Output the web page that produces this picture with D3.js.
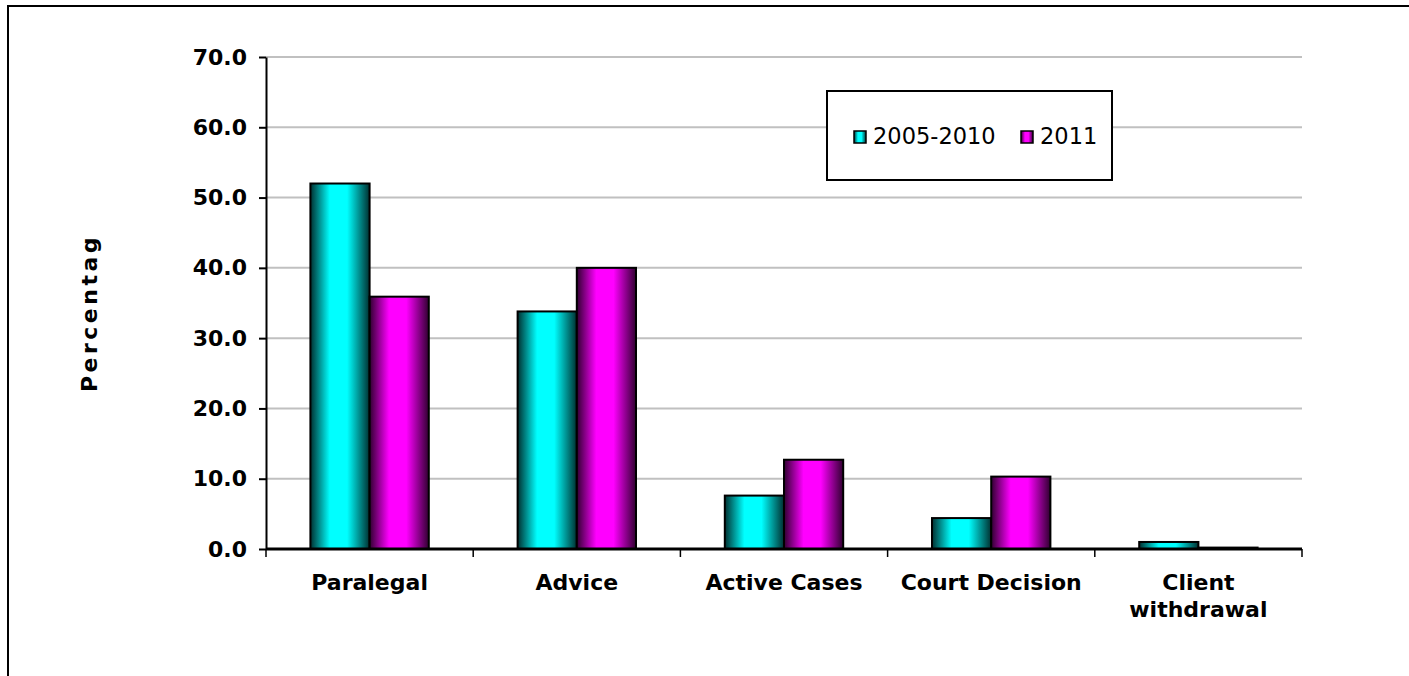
<!DOCTYPE html>
<html>
<head>
<meta charset="utf-8">
<script src="https://cdn.jsdelivr.net/npm/d3@7"></script>
<style>
  body{margin:0;background:#fff;}
  svg{display:block;font-family:"DejaVu Sans",Verdana,sans-serif;}
</style>
</head>
<body>
<div class="chart"></div>
<script>
// data
const categories = ['Paralegal','Advice','Active Cases','Court Decision','Client withdrawal'];
const seriesNames = ['2005-2010','2011'];
const values_2005_2010 = [52.0, 33.8, 7.6, 4.4, 1.0];
const values_2011 = [35.9, 40.0, 12.7, 10.3, 0.2];
const yTicks = [0,10,20,30,40,50,60,70];

const colors = {'2005-2010':['#003030','#00ffff'], '2011':['#300030','#ff00ff']};

const tableData = categories.map((c,i)=>({
  cat:c,
  vals:[{s:'2005-2010',v:values_2005_2010[i]},{s:'2011',v:values_2011[i]}]
}));

const W=1409, H=676;
const margin={top:57,right:107,bottom:127,left:266};
const svg=d3.select('.chart').append('svg').attr('width',W).attr('height',H);

// gradients (dark edges, bright middle like the excel bars)
const defs=svg.append('defs');
seriesNames.forEach((s,i)=>{
  const g=defs.append('linearGradient').attr('id','grad'+i).attr('x1','0%').attr('x2','100%');
  g.append('stop').attr('offset','0%').attr('stop-color',colors[s][0]);
  g.append('stop').attr('offset','33%').attr('stop-color',colors[s][1]);
  g.append('stop').attr('offset','62%').attr('stop-color',colors[s][1]);
  g.append('stop').attr('offset','100%').attr('stop-color',colors[s][0]);
});

// outer frame
svg.append('rect').attr('x',8).attr('y',6).attr('width',1420).attr('height',700)
  .attr('fill','#fff').attr('stroke','#000').attr('stroke-width',2);

const x0=d3.scaleBand().domain(categories).range([margin.left,W-margin.right]);
const x1=d3.scaleBand().domain(seriesNames).range([0,x0.bandwidth()]).paddingInner(0).paddingOuter(0.75);
const y=d3.scaleLinear().domain([0,70]).range([H-margin.bottom,margin.top]);

// gridlines
svg.append('g').selectAll('line').data(yTicks.filter(d=>d>0)).join('line')
  .attr('x1',margin.left).attr('x2',W-margin.right)
  .attr('y1',d=>y(d)).attr('y2',d=>y(d))
  .attr('stroke','#c0c0c0').attr('stroke-width',2);

// bars
const groups=svg.append('g').selectAll('g').data(tableData).join('g')
  .attr('transform',d=>`translate(${x0(d.cat)},0)`);
groups.selectAll('rect').data(d=>d.vals).join('rect')
  .attr('x',d=>x1(d.s))
  .attr('width',x1.bandwidth())
  .attr('y',d=>y(d.v))
  .attr('height',d=>y(0)-y(d.v))
  .attr('fill',d=>`url(#grad${seriesNames.indexOf(d.s)})`)
  .attr('stroke','#000').attr('stroke-width',2);

// y axis
const yAxis=d3.axisLeft(y).tickValues(yTicks).tickFormat(d3.format('.1f')).tickSize(7).tickPadding(12).tickSizeOuter(0);
svg.append('g').attr('transform',`translate(${margin.left},0)`).call(yAxis)
  .call(g=>g.select('.domain').attr('stroke','#000').attr('stroke-width',2))
  .call(g=>g.selectAll('.tick line').attr('stroke','#000').attr('stroke-width',2))
  .call(g=>g.selectAll('.tick text')
    .style('font-family','"DejaVu Sans",sans-serif')
    .style('font-weight','bold').style('font-size','22px').attr('fill','#000'));

// x axis
const xAxisG=svg.append('g').attr('transform',`translate(0,${y(0)})`);
xAxisG.append('line').attr('x1',margin.left).attr('x2',W-margin.right).attr('stroke','#000').attr('stroke-width',3);
const bounds=categories.map(c=>x0(c)).concat([W-margin.right]);
xAxisG.selectAll('.tk').data(bounds).join('line').attr('class','tk')
  .attr('x1',d=>d).attr('x2',d=>d).attr('y1',0).attr('y2',8)
  .attr('stroke','#000').attr('stroke-width',1.5);

// category labels
const labelLines={'Client withdrawal':['Client','withdrawal']};
svg.append('g').selectAll('text').data(categories).join('text')
  .attr('x',d=>x0(d)+x0.bandwidth()/2)
  .attr('y',590)
  .attr('text-anchor','middle')
  .style('font-weight','bold').style('font-size','22px')
  .each(function(d){
    const lines=labelLines[d]||[d];
    const t=d3.select(this);
    lines.forEach((l,i)=>{
      t.append('tspan').attr('x',x0(d)+x0.bandwidth()/2).attr('dy',i?27:0).text(l);
    });
  });

// y label
svg.append('text')
  .attr('transform','translate(97,313) rotate(-90)')
  .attr('text-anchor','middle')
  .style('font-weight','bold').style('font-size','22px').style('letter-spacing','3.5px')
  .text('Percentag');

// legend
const lg=svg.append('g').attr('class','legend');
lg.append('rect').attr('x',827).attr('y',91).attr('width',285).attr('height',89)
  .attr('fill','#fff').attr('stroke','#000').attr('stroke-width',2);
const legendX=[854,1021];
seriesNames.forEach((s,i)=>{
  lg.append('rect').attr('x',legendX[i]).attr('y',131).attr('width',12).attr('height',12)
    .attr('fill',`url(#grad${i})`).attr('stroke','#000').attr('stroke-width',1.5);
  lg.append('text').attr('x',legendX[i]+19).attr('y',144)
    .style('font-size','22.5px').text(s);
});
</script>
</body>
</html>
